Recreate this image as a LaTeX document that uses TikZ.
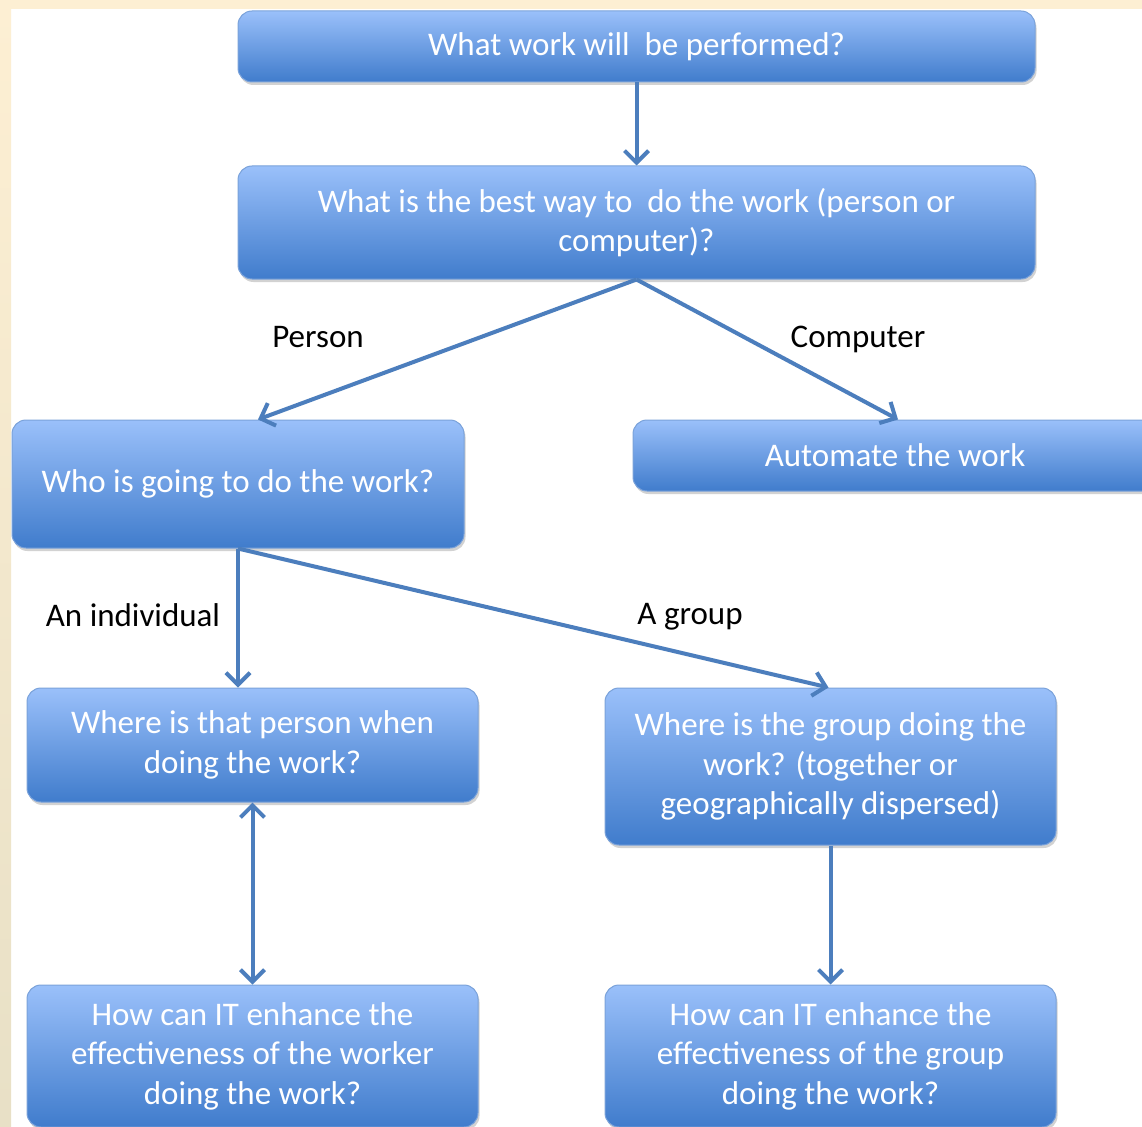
\documentclass[tikz,border=0pt]{standalone}
\usepackage{fontspec}
\setmainfont{Carlito}
\usetikzlibrary{arrows.meta,shadows,calc}
\definecolor{cream}{HTML}{FDEFD3}
\definecolor{creamdark}{HTML}{E8E0C6}
\definecolor{boxtop}{HTML}{9AC0FA}
\definecolor{boxbot}{HTML}{407CCC}
\definecolor{boxline}{HTML}{7AA2DA}
\definecolor{arrowblue}{HTML}{4C7EBD}
\tikzset{
  qbox/.style={rectangle, rounded corners=14pt, draw=boxline, line width=1pt,
    top color=boxtop, bottom color=boxbot, text=white, align=center,
    font=\fontsize{33}{39.5}\selectfont, inner sep=0pt,
    drop shadow={shadow xshift=1.5pt, shadow yshift=-3pt, opacity=0.25, fill=black!70}},
  conn/.style={draw=arrowblue, line width=4pt,
    -{Straight Barb[length=12pt,width=24pt]}},
  lbl/.style={text=black, font=\fontsize{33}{39.5}\selectfont, inner sep=0pt}
}
\begin{document}
\begin{tikzpicture}[x=1pt,y=-1pt]
\useasboundingbox (0,0) rectangle (1142,1126);
\fill[white] (0,0) rectangle (1142,1126);
\shade[top color=cream, bottom color=creamdark] (0,0) rectangle (11,1126);
\fill[cream] (0,0) rectangle (1142,9);

\node[qbox, minimum width=797pt, minimum height=71pt] (n1) at (636.5,46.5) {What work will\ \ be performed?};
\node[qbox, minimum width=797pt, minimum height=113pt] (n2) at (636.5,222.5) {What is the best way to\ \ do the work (person or\\computer)?};
\node[qbox, minimum width=452pt, minimum height=128pt] (n3) at (238,484) {Who is going to do the work?};
\node[qbox, minimum width=524pt, minimum height=71pt] (n4) at (895,455.5) {Automate the work};
\node[qbox, minimum width=451pt, minimum height=114pt] (n5) at (252.5,745) {Where is that person when\\doing the work?};
\node[qbox, minimum width=451pt, minimum height=157pt] (n6) at (830.5,766.5) {Where is the group doing the\\work? (together or\\geographically dispersed)};
\node[qbox, minimum width=451pt, minimum height=142pt] (n7) at (252.5,1056) {How can IT enhance the\\effectiveness of the worker\\doing the work?};
\node[qbox, minimum width=451pt, minimum height=142pt] (n8) at (830.5,1056) {How can IT enhance the\\effectiveness of the group\\doing the work?};

\node[lbl] (lperson) at (318,337) {Person};
\node[lbl] (lcomputer) at (858,339) {Computer};
\node[lbl] (lindiv) at (133,615) {An individual};
\node[lbl] (lgroup) at (690,617) {A group};

\draw[conn] (n1.south) -- (n2.north);
\draw[conn] (n2.south) -- ($(n3.north)+(20,0)$);
\draw[conn] (n2.south) -- ($(n4.north)+(3,0)$);
\draw[conn] (n3.south) -- (n3.south |- n5.north);
\draw[conn] (n3.south) -- ($(n6.north)+(-2,0)$);
\draw[conn, {Straight Barb[length=12pt,width=24pt]}-{Straight Barb[length=12pt,width=24pt]}] (n5.south) -- (n7.north);
\draw[conn] (n6.south) -- (n8.north);
\end{tikzpicture}
\end{document}
